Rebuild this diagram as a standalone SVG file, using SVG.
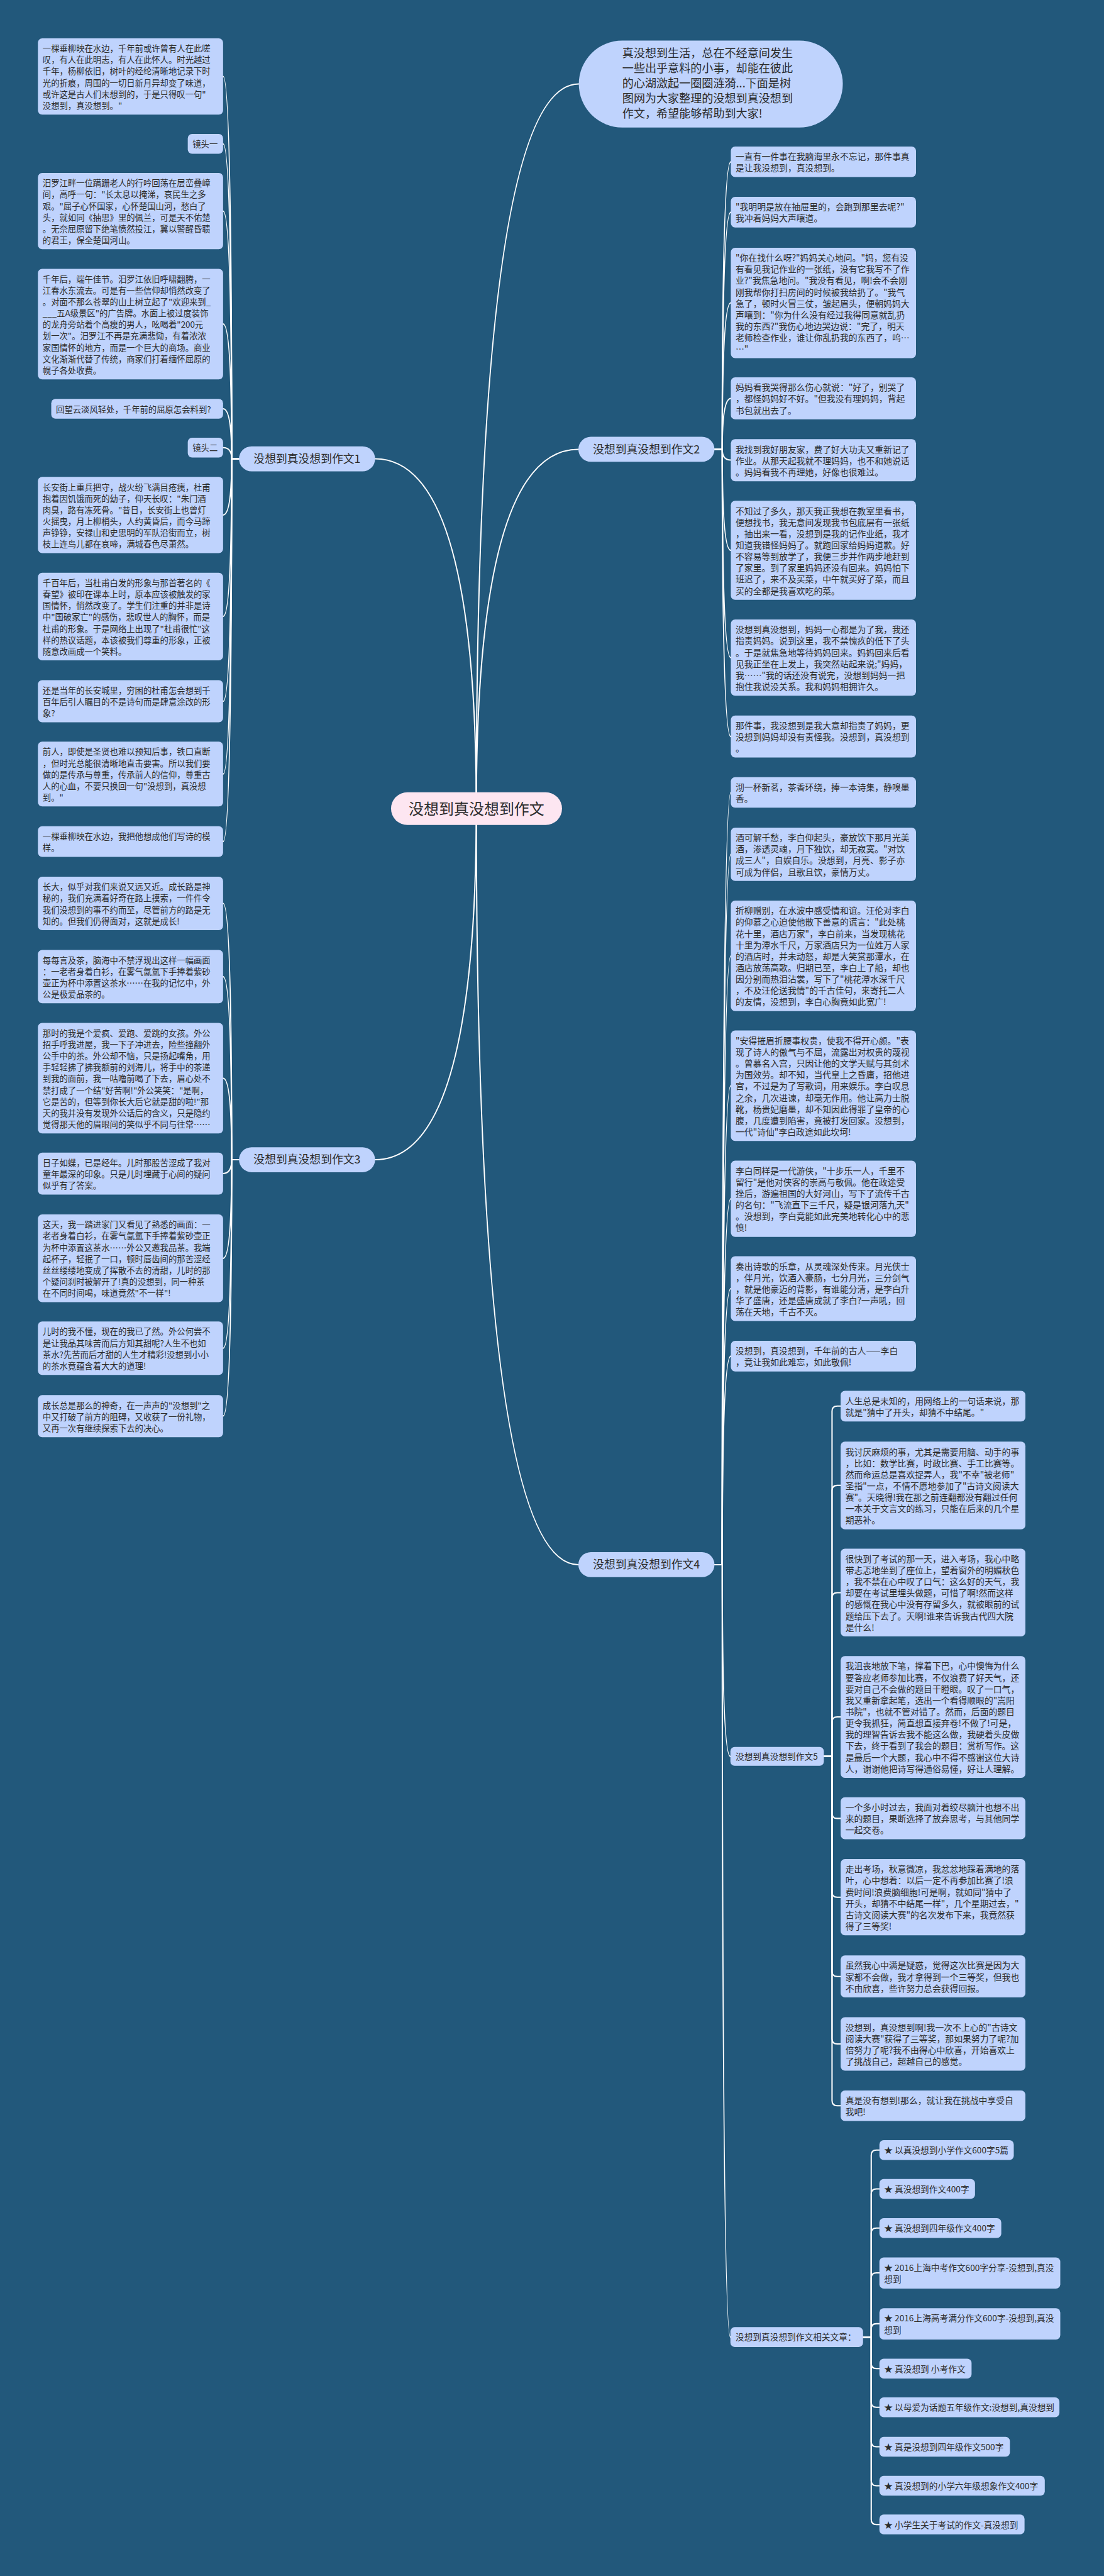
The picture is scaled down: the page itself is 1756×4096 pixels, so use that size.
<svg xmlns="http://www.w3.org/2000/svg" width="1756" height="4096" viewBox="0 0 1756 4096">
<style>
.bg{fill:#22587b}
.c{fill:none;stroke:#ffffff;stroke-width:3;stroke-linecap:round}
.n{fill:#bfd3fd}
.ctr{fill:#fde6f1}
.t{font-family:"Noto Sans CJK SC","Noto Sans",sans-serif;fill:#2b2b2b}
.a{font-size:19.5px}
.b{font-size:20.2px}
.s{font-size:20px}
.lb{font-size:26px;text-anchor:middle}
.nt{font-size:26.4px}
.ct{font-size:35px;text-anchor:middle}
</style>
<rect class="bg" x="0" y="0" width="1756" height="4096"/>
<g transform="scale(0.685)">
<g id="connectors">
<path class="c" d="M1106 1877Q1106 195 1344 195"/>
<path class="c" d="M1106 1877Q1106 1043 1343 1043"/>
<path class="c" d="M1106 1877Q1106 3632 1343 3632"/>
<path class="c" d="M1106 1877Q1106 1065 871 1065"/>
<path class="c" d="M1106 1877Q1106 2692 871 2692"/>
<path class="c" d="M555 1065H538Q538 177.5 518 177.5"/>
<path class="c" d="M555 1065H538Q538 334 518 334"/>
<path class="c" d="M555 1065H538Q538 490 518 490"/>
<path class="c" d="M555 1065H538Q538 752 518 752"/>
<path class="c" d="M555 1065H538Q538 949 518 949"/>
<path class="c" d="M555 1065H538Q538 1039 518 1039"/>
<path class="c" d="M555 1065H538Q538 1195.5 518 1195.5"/>
<path class="c" d="M555 1065H538Q538 1431 518 1431"/>
<path class="c" d="M555 1065H538Q538 1628 518 1628"/>
<path class="c" d="M555 1065H538Q538 1797 518 1797"/>
<path class="c" d="M555 1065H538Q538 1953.5 518 1953.5"/>
<path class="c" d="M555 2692H538Q538 2097 518 2097"/>
<path class="c" d="M555 2692H538Q538 2267 518 2267"/>
<path class="c" d="M555 2692H538Q538 2503 518 2503"/>
<path class="c" d="M555 2692H538Q538 2724 518 2724"/>
<path class="c" d="M555 2692H538Q538 2921 518 2921"/>
<path class="c" d="M555 2692H538Q538 3129.5 518 3129.5"/>
<path class="c" d="M555 2692H538Q538 3287 518 3287"/>
<path class="c" d="M1659 1043H1677Q1677 375.5 1697 375.5"/>
<path class="c" d="M1659 1043H1677Q1677 492.5 1697 492.5"/>
<path class="c" d="M1659 1043H1677Q1677 703 1697 703"/>
<path class="c" d="M1659 1043H1677Q1677 925 1697 925"/>
<path class="c" d="M1659 1043H1677Q1677 1068 1697 1068"/>
<path class="c" d="M1659 1043H1677Q1677 1277.5 1697 1277.5"/>
<path class="c" d="M1659 1043H1677Q1677 1526.5 1697 1526.5"/>
<path class="c" d="M1659 1043H1677Q1677 1710 1697 1710"/>
<path class="c" d="M1659 3632H1677Q1677 1839.5 1697 1839.5"/>
<path class="c" d="M1659 3632H1677Q1677 1983 1697 1983"/>
<path class="c" d="M1659 3632H1677Q1677 2219 1697 2219"/>
<path class="c" d="M1659 3632H1677Q1677 2520 1697 2520"/>
<path class="c" d="M1659 3632H1677Q1677 2782.5 1697 2782.5"/>
<path class="c" d="M1659 3632H1677Q1677 2991 1697 2991"/>
<path class="c" d="M1659 3632H1677Q1677 3148 1697 3148"/>
<path class="c" d="M1659 3632H1677Q1677 4077 1696 4077"/>
<path class="c" d="M1659 3632H1677Q1677 5425 1696 5425"/>
<path class="c" d="M1913 4077H1932V3276Q1932 3264 1944 3264H1952"/>
<path class="c" d="M1913 4077H1932V3460Q1932 3448 1944 3448H1952"/>
<path class="c" d="M1913 4077H1932V3709Q1932 3697 1944 3697H1952"/>
<path class="c" d="M1913 4077H1932V3997.5Q1932 3985.5 1944 3985.5H1952"/>
<path class="c" d="M1913 4077H1932V4209Q1932 4221 1944 4221H1952"/>
<path class="c" d="M1913 4077H1932V4392Q1932 4404 1944 4404H1952"/>
<path class="c" d="M1913 4077H1932V4576Q1932 4588 1944 4588H1952"/>
<path class="c" d="M1913 4077H1932V4732.5Q1932 4744.5 1944 4744.5H1952"/>
<path class="c" d="M1913 4077H1932V4876Q1932 4888 1944 4888H1952"/>
<path class="c" d="M2004 5425H2023V5003Q2023 4991 2035 4991H2042"/>
<path class="c" d="M2004 5425H2023V5093Q2023 5081 2035 5081H2042"/>
<path class="c" d="M2004 5425H2023V5184Q2023 5172 2035 5172H2042"/>
<path class="c" d="M2004 5425H2023V5288Q2023 5276 2035 5276H2042"/>
<path class="c" d="M2004 5425H2023V5406Q2023 5394 2035 5394H2042"/>
<path class="c" d="M2004 5425H2023V5486Q2023 5498 2035 5498H2042"/>
<path class="c" d="M2004 5425H2023V5576Q2023 5588 2035 5588H2042"/>
<path class="c" d="M2004 5425H2023V5667.5Q2023 5679.5 2035 5679.5H2042"/>
<path class="c" d="M2004 5425H2023V5758Q2023 5770 2035 5770H2042"/>
<path class="c" d="M2004 5425H2023V5848Q2023 5860 2035 5860H2042"/>
</g>

<g id="center"><rect class="ctr" x="908" y="1839" width="397" height="76" rx="38"/><text class="t ct" x="1106.5" y="1890">没想到真没想到作文</text></g>

<g id="intro"><rect class="n" x="1344" y="94" width="613" height="202" rx="101"/><text class="t nt" y="133"><tspan x="1445">真没想到生活，总在不经意间发生</tspan><tspan x="1445" dy="35">一些出乎意料的小事，却能在彼此</tspan><tspan x="1445" dy="35">的心湖激起一圈圈涟漪...下面是树</tspan><tspan x="1445" dy="35">图网为大家整理的没想到真没想到</tspan><tspan x="1445" dy="35">作文，希望能够帮助到大家!</tspan></text></g>

<g id="b1"><rect class="n" x="555" y="1036" width="316" height="58" rx="29"/><text class="t lb" x="713" y="1074">没想到真没想到作文1</text></g>
<g id="b2"><rect class="n" x="1343" y="1014" width="316" height="58" rx="29"/><text class="t lb" x="1501" y="1052">没想到真没想到作文2</text></g>
<g id="b3"><rect class="n" x="555" y="2663" width="316" height="58" rx="29"/><text class="t lb" x="713" y="2701">没想到真没想到作文3</text></g>
<g id="b4"><rect class="n" x="1343" y="3603" width="316" height="58" rx="29"/><text class="t lb" x="1501" y="3641">没想到真没想到作文4</text></g>
<g id="b5"><rect class="n" x="1696" y="4055" width="217" height="44" rx="10"/><text class="t s" x="1708" y="4084">没想到真没想到作文5</text></g>
<g id="b6"><rect class="n" x="1696" y="5402" width="308" height="46" rx="10"/><text class="t s" x="1708" y="5432">没想到真没想到作文相关文章：</text></g>

<g id="l1" transform="translate(88,89)"><rect class="n" width="430" height="177" rx="10"/><text class="t a" y="31"><tspan x="11">一棵垂柳映在水边，千年前或许曾有人在此嗟</tspan><tspan x="11" dy="26.5">叹，有人在此明志，有人在此怀人。时光越过</tspan><tspan x="11" dy="26.5">千年，杨柳依旧，树叶的经纶清晰地记录下时</tspan><tspan x="11" dy="26.5">光的折痕，周围的一切日新月异却变了味道，</tspan><tspan x="11" dy="26.5">或许这是古人们未想到的，于是只得叹一句"</tspan><tspan x="11" dy="26.5">没想到，真没想到。"</tspan></text></g>
<g id="l2" transform="translate(436,311)"><rect class="n" width="82" height="46" rx="10"/><text class="t a" x="11" y="31">镜头一</text></g>
<g id="l3" transform="translate(88,401.5)"><rect class="n" width="430" height="177" rx="10"/><text class="t a" y="31"><tspan x="11">汨罗江畔一位蹒跚老人的行吟回荡在层峦叠嶂</tspan><tspan x="11" dy="26.5">间，高呼一句："长太息以掩涕，哀民生之多</tspan><tspan x="11" dy="26.5">艰。"屈子心怀国家，心怀楚国山河，愁白了</tspan><tspan x="11" dy="26.5">头，就如同《抽思》里的佩兰，可是天不佑楚</tspan><tspan x="11" dy="26.5">。无奈屈原留下绝笔愤然投江，冀以警醒昏聩</tspan><tspan x="11" dy="26.5">的君王，保全楚国河山。</tspan></text></g>
<g id="l4" transform="translate(88,624)"><rect class="n" width="430" height="256.5" rx="10"/><text class="t a" y="31"><tspan x="11">千年后，端午佳节。汨罗江依旧呼啸翻腾，一</tspan><tspan x="11" dy="26.5">江春水东流去。可是有一些信仰却悄然改变了</tspan><tspan x="11" dy="26.5">。对面不那么苍翠的山上树立起了"欢迎来到_</tspan><tspan x="11" dy="26.5">___五A级景区"的广告牌。水面上被过度装饰</tspan><tspan x="11" dy="26.5">的龙舟旁站着个高瘦的男人，吆喝着"200元</tspan><tspan x="11" dy="26.5">划一次"。汨罗江不再是充满悲恸，有着浓浓</tspan><tspan x="11" dy="26.5">家国情怀的地方，而是一个巨大的商场。商业</tspan><tspan x="11" dy="26.5">文化渐渐代替了传统，商家们打着缅怀屈原的</tspan><tspan x="11" dy="26.5">幌子各处收费。</tspan></text></g>
<g id="l5" transform="translate(119,926)"><rect class="n" width="399" height="46" rx="10"/><text class="t a" x="11" y="31">回望云淡风轻处，千年前的屈原怎会料到?</text></g>
<g id="l6" transform="translate(436,1016)"><rect class="n" width="82" height="46" rx="10"/><text class="t a" x="11" y="31">镜头二</text></g>
<g id="l7" transform="translate(88,1107)"><rect class="n" width="430" height="177" rx="10"/><text class="t a" y="31"><tspan x="11">长安街上重兵把守，战火纷飞满目疮痍，杜甫</tspan><tspan x="11" dy="26.5">抱着因饥饿而死的幼子，仰天长叹："朱门酒</tspan><tspan x="11" dy="26.5">肉臭，路有冻死骨。"昔日，长安街上也曾灯</tspan><tspan x="11" dy="26.5">火摇曳，月上柳梢头，人约黄昏后，而今马蹄</tspan><tspan x="11" dy="26.5">声铮铮，安禄山和史思明的军队沿街而立，树</tspan><tspan x="11" dy="26.5">枝上连鸟儿都在哀啼，满城春色尽萧然。</tspan></text></g>
<g id="l8" transform="translate(88,1329.5)"><rect class="n" width="430" height="203.5" rx="10"/><text class="t a" y="31"><tspan x="11">千百年后，当杜甫白发的形象与那首著名的《</tspan><tspan x="11" dy="26.5">春望》被印在课本上时，原本应该被触发的家</tspan><tspan x="11" dy="26.5">国情怀，悄然改变了。学生们注重的并非是诗</tspan><tspan x="11" dy="26.5">中"国破家亡"的感伤，悲叹世人的胸怀，而是</tspan><tspan x="11" dy="26.5">杜甫的形象。于是网络上出现了"杜甫很忙"这</tspan><tspan x="11" dy="26.5">样的热议话题，本该被我们尊重的形象，正被</tspan><tspan x="11" dy="26.5">随意改画成一个笑料。</tspan></text></g>
<g id="l9" transform="translate(88,1579)"><rect class="n" width="430" height="97.5" rx="10"/><text class="t a" y="31"><tspan x="11">还是当年的长安城里，穷困的杜甫怎会想到千</tspan><tspan x="11" dy="26.5">百年后引人瞩目的不是诗句而是肆意涂改的形</tspan><tspan x="11" dy="26.5">象?</tspan></text></g>
<g id="l10" transform="translate(88,1721.5)"><rect class="n" width="430" height="150.5" rx="10"/><text class="t a" y="31"><tspan x="11">前人，即使是圣贤也难以预知后事，铁口直断</tspan><tspan x="11" dy="26.5">，但时光总能很清晰地直击要害。所以我们要</tspan><tspan x="11" dy="26.5">做的是传承与尊重，传承前人的信仰，尊重古</tspan><tspan x="11" dy="26.5">人的心血，不要只换回一句"没想到，真没想</tspan><tspan x="11" dy="26.5">到。"</tspan></text></g>
<g id="l11" transform="translate(88,1918)"><rect class="n" width="430" height="71" rx="10"/><text class="t a" y="31"><tspan x="11">一棵垂柳映在水边，我把他想成他们写诗的模</tspan><tspan x="11" dy="26.5">样。</tspan></text></g>

<g id="m1" transform="translate(88,2035)"><rect class="n" width="430" height="124" rx="10"/><text class="t a" y="31"><tspan x="11">长大，似乎对我们来说又远又近。成长路是神</tspan><tspan x="11" dy="26.5">秘的，我们充满着好奇在路上摸索，一件件令</tspan><tspan x="11" dy="26.5">我们没想到的事不约而至，尽管前方的路是无</tspan><tspan x="11" dy="26.5">知的。但我们仍得面对，这就是成长!</tspan></text></g>
<g id="m2" transform="translate(88,2205)"><rect class="n" width="430" height="124" rx="10"/><text class="t a" y="31"><tspan x="11">每每言及茶，脑海中不禁浮现出这样一幅画面</tspan><tspan x="11" dy="26.5">：一老者身着白衫，在雾气氤氲下手捧着紫砂</tspan><tspan x="11" dy="26.5">壶正为杯中添置这茶水……在我的记忆中，外</tspan><tspan x="11" dy="26.5">公是极爱品茶的。</tspan></text></g>
<g id="m3" transform="translate(88,2374.5)"><rect class="n" width="430" height="256.5" rx="10"/><text class="t a" y="31"><tspan x="11">那时的我是个爱疯、爱跑、爱跳的女孩。外公</tspan><tspan x="11" dy="26.5">招手呼我进屋，我一下子冲进去，险些撞翻外</tspan><tspan x="11" dy="26.5">公手中的茶。外公却不恼，只是扬起嘴角，用</tspan><tspan x="11" dy="26.5">手轻轻拂了拂我额前的刘海儿，将手中的茶递</tspan><tspan x="11" dy="26.5">到我的面前，我一咕噜前喝了下去，眉心处不</tspan><tspan x="11" dy="26.5">禁打成了一个结"好苦啊!"外公笑笑："是啊，</tspan><tspan x="11" dy="26.5">它是苦的，但等到你长大后它就是甜的啦!"那</tspan><tspan x="11" dy="26.5">天的我并没有发现外公话后的含义，只是隐约</tspan><tspan x="11" dy="26.5">觉得那天他的眉眼间的笑似乎不同与往常……</tspan></text></g>
<g id="m4" transform="translate(88,2675.5)"><rect class="n" width="430" height="97.5" rx="10"/><text class="t a" y="31"><tspan x="11">日子如蝶，已是经年。儿时那股苦涩成了我对</tspan><tspan x="11" dy="26.5">童年最深的印象。只是儿时埋藏于心间的疑问</tspan><tspan x="11" dy="26.5">似乎有了答案。</tspan></text></g>
<g id="m5" transform="translate(88,2819)"><rect class="n" width="430" height="203.5" rx="10"/><text class="t a" y="31"><tspan x="11">这天，我一踏进家门又看见了熟悉的画面：一</tspan><tspan x="11" dy="26.5">老者身着白衫，在雾气氤氲下手捧着紫砂壶正</tspan><tspan x="11" dy="26.5">为杯中添置这茶水……外公又邀我品茶。我端</tspan><tspan x="11" dy="26.5">起杯子，轻抿了一口，顿时唇齿间的那苦涩经</tspan><tspan x="11" dy="26.5">丝丝缕缕地变成了挥散不去的清甜，儿时的那</tspan><tspan x="11" dy="26.5">个疑问刹时被解开了!真的没想到，同一种茶</tspan><tspan x="11" dy="26.5">在不同时间喝，味道竟然"不一样"!</tspan></text></g>
<g id="m6" transform="translate(88,3067.5)"><rect class="n" width="430" height="124" rx="10"/><text class="t a" y="31"><tspan x="11">儿时的我不懂，现在的我已了然。外公何尝不</tspan><tspan x="11" dy="26.5">是让我品其味苦而后方知其甜呢?人生不也如</tspan><tspan x="11" dy="26.5">茶水?先苦而后才甜的人生才精彩!没想到小小</tspan><tspan x="11" dy="26.5">的茶水竟蕴含着大大的道理!</tspan></text></g>
<g id="m7" transform="translate(88,3238.5)"><rect class="n" width="430" height="97.5" rx="10"/><text class="t a" y="31"><tspan x="11">成长总是那么的神奇，在一声声的"没想到"之</tspan><tspan x="11" dy="26.5">中又打破了前方的阻碍，又收获了一份礼物，</tspan><tspan x="11" dy="26.5">又再一次有继续探索下去的决心。</tspan></text></g>

<g id="r1" transform="translate(1697,340)"><rect class="n" width="430" height="71" rx="10"/><text class="t b" y="31"><tspan x="11">一直有一件事在我脑海里永不忘记，那件事真</tspan><tspan x="11" dy="26.5">是让我没想到，真没想到。</tspan></text></g>
<g id="r2" transform="translate(1697,457)"><rect class="n" width="430" height="71" rx="10"/><text class="t b" y="31"><tspan x="11">"我明明是放在抽屉里的，会跑到那里去呢?"</tspan><tspan x="11" dy="26.5">我冲着妈妈大声嚷道。</tspan></text></g>
<g id="r3" transform="translate(1697,575)"><rect class="n" width="430" height="256.5" rx="10"/><text class="t b" y="31"><tspan x="11">"你在找什么呀?"妈妈关心地问。"妈，您有没</tspan><tspan x="11" dy="26.5">有看见我记作业的一张纸，没有它我写不了作</tspan><tspan x="11" dy="26.5">业?"我焦急地问。"我没有看见，啊!会不会刚</tspan><tspan x="11" dy="26.5">刚我帮你打扫房间的时候被我给扔了。"我气</tspan><tspan x="11" dy="26.5">急了，顿时火冒三仗，皱起眉头，便朝妈妈大</tspan><tspan x="11" dy="26.5">声嚷到："你为什么没有经过我得同意就乱扔</tspan><tspan x="11" dy="26.5">我的东西?"我伤心地边哭边说："完了，明天</tspan><tspan x="11" dy="26.5">老师检查作业，谁让你乱扔我的东西了，呜…</tspan><tspan x="11" dy="26.5">…"</tspan></text></g>
<g id="r4" transform="translate(1697,876)"><rect class="n" width="430" height="97.5" rx="10"/><text class="t b" y="31"><tspan x="11">妈妈看我哭得那么伤心就说："好了，别哭了</tspan><tspan x="11" dy="26.5">，都怪妈妈好不好。"但我没有理妈妈，背起</tspan><tspan x="11" dy="26.5">书包就出去了。</tspan></text></g>
<g id="r5" transform="translate(1697,1019.5)"><rect class="n" width="430" height="97.5" rx="10"/><text class="t b" y="31"><tspan x="11">我找到我好朋友家，费了好大功夫又重新记了</tspan><tspan x="11" dy="26.5">作业。从那天起我就不理妈妈，也不和她说话</tspan><tspan x="11" dy="26.5">。妈妈看我不再理她，好像也很难过。</tspan></text></g>
<g id="r6" transform="translate(1697,1162.5)"><rect class="n" width="430" height="230" rx="10"/><text class="t b" y="31"><tspan x="11">不知过了多久，那天我正我想在教室里看书，</tspan><tspan x="11" dy="26.5">便想找书，我无意间发现我书包底层有一张纸</tspan><tspan x="11" dy="26.5">，抽出来一看，没想到是我的记作业纸，我才</tspan><tspan x="11" dy="26.5">知道我错怪妈妈了。就跑回家给妈妈道歉。好</tspan><tspan x="11" dy="26.5">不容易等到放学了，我便三步并作两步地赶到</tspan><tspan x="11" dy="26.5">了家里。到了家里妈妈还没有回来。妈妈怕下</tspan><tspan x="11" dy="26.5">班迟了，来不及买菜，中午就买好了菜，而且</tspan><tspan x="11" dy="26.5">买的全都是我喜欢吃的菜。</tspan></text></g>
<g id="r7" transform="translate(1697,1438)"><rect class="n" width="430" height="177" rx="10"/><text class="t b" y="31"><tspan x="11">没想到真没想到，妈妈一心都是为了我，我还</tspan><tspan x="11" dy="26.5">指责妈妈。说到这里，我不禁愧疚的低下了头</tspan><tspan x="11" dy="26.5">。于是就焦急地等待妈妈回来。妈妈回来后看</tspan><tspan x="11" dy="26.5">见我正坐在上发上，我突然站起来说;"妈妈，</tspan><tspan x="11" dy="26.5">我……"我的话还没有说完，没想到妈妈一把</tspan><tspan x="11" dy="26.5">抱住我说没关系。我和妈妈相拥许久。</tspan></text></g>
<g id="r8" transform="translate(1697,1661)"><rect class="n" width="430" height="97.5" rx="10"/><text class="t b" y="31"><tspan x="11">那件事，我没想到是我大意却指责了妈妈，更</tspan><tspan x="11" dy="26.5">没想到妈妈却没有责怪我。没想到，真没想到</tspan><tspan x="11" dy="26.5">。</tspan></text></g>

<g id="p1" transform="translate(1697,1804)"><rect class="n" width="430" height="71" rx="10"/><text class="t b" y="31"><tspan x="11">沏一杯新茗，茶香环绕，捧一本诗集，静嗅墨</tspan><tspan x="11" dy="26.5">香。</tspan></text></g>
<g id="p2" transform="translate(1697,1921)"><rect class="n" width="430" height="124" rx="10"/><text class="t b" y="31"><tspan x="11">酒可解千愁，李白仰起头，豪放饮下那月光美</tspan><tspan x="11" dy="26.5">酒，渗透灵魂，月下独饮，却无寂寞。"对饮</tspan><tspan x="11" dy="26.5">成三人"，自娱自乐。没想到，月亮、影子亦</tspan><tspan x="11" dy="26.5">可成为伴侣，且歌且饮，豪情万丈。</tspan></text></g>
<g id="p3" transform="translate(1697,2090.5)"><rect class="n" width="430" height="256.5" rx="10"/><text class="t b" y="31"><tspan x="11">折柳赠别，在水波中感受情和谊。汪伦对李白</tspan><tspan x="11" dy="26.5">的仰慕之心迫使他散下善意的谎言："此处桃</tspan><tspan x="11" dy="26.5">花十里，酒店万家"，李白前来，当发现桃花</tspan><tspan x="11" dy="26.5">十里为潭水千尺，万家酒店只为一位姓万人家</tspan><tspan x="11" dy="26.5">的酒店时，并未动怒，却是大笑赏那潭水，在</tspan><tspan x="11" dy="26.5">酒店放荡高歌。归期已至，李白上了船，却也</tspan><tspan x="11" dy="26.5">因分别而热泪沾裳，写下了"桃花潭水深千尺</tspan><tspan x="11" dy="26.5">，不及汪伦送我情"的千古佳句，来寄托二人</tspan><tspan x="11" dy="26.5">的友情，没想到，李白心胸竟如此宽广!</tspan></text></g>
<g id="p4" transform="translate(1697,2392)"><rect class="n" width="430" height="256.5" rx="10"/><text class="t b" y="31"><tspan x="11">"安得摧眉折腰事权贵，使我不得开心颜。"表</tspan><tspan x="11" dy="26.5">现了诗人的傲气与不屈，流露出对权贵的蔑视</tspan><tspan x="11" dy="26.5">。曾慕名入宫，只因让他的文学天赋与其剑术</tspan><tspan x="11" dy="26.5">为国效劳。却不知，当代皇上之昏庸，招他进</tspan><tspan x="11" dy="26.5">宫，不过是为了写歌词，用来娱乐。李白叹息</tspan><tspan x="11" dy="26.5">之余，几次进谏，却毫无作用。他让高力士脱</tspan><tspan x="11" dy="26.5">靴，杨贵妃磨墨，却不知因此得罪了皇帝的心</tspan><tspan x="11" dy="26.5">腹，几度遭到陷害，竟被打发回家。没想到，</tspan><tspan x="11" dy="26.5">一代"诗仙"李白政途如此坎坷!</tspan></text></g>
<g id="p5" transform="translate(1697,2694)"><rect class="n" width="430" height="177" rx="10"/><text class="t b" y="31"><tspan x="11">李白同样是一代游侠，"十步乐一人，千里不</tspan><tspan x="11" dy="26.5">留行"是他对侠客的崇高与敬佩。他在政途受</tspan><tspan x="11" dy="26.5">挫后，游遍祖国的大好河山，写下了流传千古</tspan><tspan x="11" dy="26.5">的名句："飞流直下三千尺，疑是银河落九天"</tspan><tspan x="11" dy="26.5">。没想到，李白竟能如此完美地转化心中的悲</tspan><tspan x="11" dy="26.5">愤!</tspan></text></g>
<g id="p6" transform="translate(1697,2916)"><rect class="n" width="430" height="150.5" rx="10"/><text class="t b" y="31"><tspan x="11">奏出诗歌的乐章，从灵魂深处传来。月光侠士</tspan><tspan x="11" dy="26.5">，伴月光，饮酒入豪肠，七分月光，三分剑气</tspan><tspan x="11" dy="26.5">，就是他豪迈的背影，有谁能分清，是李白升</tspan><tspan x="11" dy="26.5">华了盛唐，还是盛唐成就了李白?一声吼，回</tspan><tspan x="11" dy="26.5">荡在天地，千古不灭。</tspan></text></g>
<g id="p7" transform="translate(1697,3112.5)"><rect class="n" width="430" height="71" rx="10"/><text class="t b" y="31"><tspan x="11">没想到，真没想到，千年前的古人——李白</tspan><tspan x="11" dy="26.5">，竟让我如此难忘，如此敬佩!</tspan></text></g>

<g id="q1" transform="translate(1952,3228.5)"><rect class="n" width="429" height="71" rx="10"/><text class="t b" y="31"><tspan x="11">人生总是未知的，用网络上的一句话来说，那</tspan><tspan x="11" dy="26.5">就是"猜中了开头，却猜不中结尾。"</tspan></text></g>
<g id="q2" transform="translate(1952,3346.5)"><rect class="n" width="429" height="203.5" rx="10"/><text class="t b" y="31"><tspan x="11">我讨厌麻烦的事，尤其是需要用脑、动手的事</tspan><tspan x="11" dy="26.5">，比如：数学比赛，时政比赛、手工比赛等。</tspan><tspan x="11" dy="26.5">然而命运总是喜欢捉弄人，我"不幸"被老师"</tspan><tspan x="11" dy="26.5">圣指"一点，不情不愿地参加了"古诗文阅读大</tspan><tspan x="11" dy="26.5">赛"。天晓得!我在那之前连翻都没有翻过任何</tspan><tspan x="11" dy="26.5">一本关于文言文的练习，只能在后来的几个星</tspan><tspan x="11" dy="26.5">期恶补。</tspan></text></g>
<g id="q3" transform="translate(1952,3595)"><rect class="n" width="429" height="203.5" rx="10"/><text class="t b" y="31"><tspan x="11">很快到了考试的那一天，进入考场，我心中略</tspan><tspan x="11" dy="26.5">带忐忑地坐到了座位上，望着窗外的明媚秋色</tspan><tspan x="11" dy="26.5">，我不禁在心中叹了口气：这么好的天气，我</tspan><tspan x="11" dy="26.5">却要在考试里埋头做题，可惜了啊!然而这样</tspan><tspan x="11" dy="26.5">的感慨在我心中没有存留多久，就被眼前的试</tspan><tspan x="11" dy="26.5">题给压下去了。天啊!谁来告诉我古代四大院</tspan><tspan x="11" dy="26.5">是什么!</tspan></text></g>
<g id="q4" transform="translate(1952,3844)"><rect class="n" width="429" height="283" rx="10"/><text class="t b" y="31"><tspan x="11">我沮丧地放下笔，撑着下巴，心中懊悔为什么</tspan><tspan x="11" dy="26.5">要答应老师参加比赛，不仅浪费了好天气，还</tspan><tspan x="11" dy="26.5">要对自己不会做的题目干瞪眼。叹了一口气，</tspan><tspan x="11" dy="26.5">我又重新拿起笔，选出一个看得顺眼的"嵩阳</tspan><tspan x="11" dy="26.5">书院"，也就不管对错了。然而，后面的题目</tspan><tspan x="11" dy="26.5">更令我抓狂，简直想直接弃卷!不做了!可是，</tspan><tspan x="11" dy="26.5">我的理智告诉去我不能这么做，我硬着头皮做</tspan><tspan x="11" dy="26.5">下去，终于看到了我会的题目：赏析写作。这</tspan><tspan x="11" dy="26.5">是最后一个大题，我心中不得不感谢这位大诗</tspan><tspan x="11" dy="26.5">人，谢谢他把诗写得通俗易懂，好让人理解。</tspan></text></g>
<g id="q5" transform="translate(1952,4172)"><rect class="n" width="429" height="97.5" rx="10"/><text class="t b" y="31"><tspan x="11">一个多小时过去，我面对着绞尽脑汁也想不出</tspan><tspan x="11" dy="26.5">来的题目，果断选择了放弃思考，与其他同学</tspan><tspan x="11" dy="26.5">一起交卷。</tspan></text></g>
<g id="q6" transform="translate(1952,4315.5)"><rect class="n" width="429" height="177" rx="10"/><text class="t b" y="31"><tspan x="11">走出考场，秋意微凉，我忿忿地踩着满地的落</tspan><tspan x="11" dy="26.5">叶，心中想着：以后一定不再参加比赛了!浪</tspan><tspan x="11" dy="26.5">费时间!浪费脑细胞!可是啊，就如同"猜中了</tspan><tspan x="11" dy="26.5">开头，却猜不中结尾一样"，几个星期过去，"</tspan><tspan x="11" dy="26.5">古诗文阅读大赛"的名次发布下来，我竟然获</tspan><tspan x="11" dy="26.5">得了三等奖!</tspan></text></g>
<g id="q7" transform="translate(1952,4539)"><rect class="n" width="429" height="97.5" rx="10"/><text class="t b" y="31"><tspan x="11">虽然我心中满是疑惑，觉得这次比赛是因为大</tspan><tspan x="11" dy="26.5">家都不会做，我才拿得到一个三等奖，但我也</tspan><tspan x="11" dy="26.5">不由欣喜，些许努力总会获得回报。</tspan></text></g>
<g id="q8" transform="translate(1952,4682.5)"><rect class="n" width="429" height="124" rx="10"/><text class="t b" y="31"><tspan x="11">没想到，真没想到啊!我一次不上心的"古诗文</tspan><tspan x="11" dy="26.5">阅读大赛"获得了三等奖，那如果努力了呢?加</tspan><tspan x="11" dy="26.5">倍努力了呢?我不由得心中欣喜，开始喜欢上</tspan><tspan x="11" dy="26.5">了挑战自己，超越自己的感觉。</tspan></text></g>
<g id="q9" transform="translate(1952,4852.5)"><rect class="n" width="429" height="71" rx="10"/><text class="t b" y="31"><tspan x="11">真是没有想到!那么，就让我在挑战中享受自</tspan><tspan x="11" dy="26.5">我吧!</tspan></text></g>

<g id="s1" transform="translate(2042,4968)"><rect class="n" width="312" height="46" rx="10"/><text class="t s" x="11" y="31">★ 以真没想到小学作文600字5篇</text></g>
<g id="s2" transform="translate(2042,5058)"><rect class="n" width="222" height="46" rx="10"/><text class="t s" x="11" y="31">★ 真没想到作文400字</text></g>
<g id="s3" transform="translate(2042,5149)"><rect class="n" width="283" height="46" rx="10"/><text class="t s" x="11" y="31">★ 真没想到四年级作文400字</text></g>
<g id="s4" transform="translate(2042,5240)"><rect class="n" width="420" height="72.5" rx="10"/><text class="t s" y="31"><tspan x="11">★ 2016上海中考作文600字分享-没想到,真没</tspan><tspan x="11" dy="26.5">想到</tspan></text></g>
<g id="s5" transform="translate(2042,5358)"><rect class="n" width="420" height="72.5" rx="10"/><text class="t s" y="31"><tspan x="11">★ 2016上海高考满分作文600字-没想到,真没</tspan><tspan x="11" dy="26.5">想到</tspan></text></g>
<g id="s6" transform="translate(2042,5475)"><rect class="n" width="214" height="46" rx="10"/><text class="t s" x="11" y="31">★ 真没想到 小考作文</text></g>
<g id="s7" transform="translate(2042,5565)"><rect class="n" width="418" height="46" rx="10"/><text class="t s" x="11" y="31">★ 以母爱为话题五年级作文:没想到,真没想到</text></g>
<g id="s8" transform="translate(2042,5656.5)"><rect class="n" width="303" height="46" rx="10"/><text class="t s" x="11" y="31">★ 真是没想到四年级作文500字</text></g>
<g id="s9" transform="translate(2042,5747)"><rect class="n" width="384" height="46" rx="10"/><text class="t s" x="11" y="31">★ 真没想到的小学六年级想象作文400字</text></g>
<g id="s10" transform="translate(2042,5837)"><rect class="n" width="337" height="46" rx="10"/><text class="t s" x="11" y="31">★ 小学生关于考试的作文-真没想到</text></g>
</g>
</svg>
